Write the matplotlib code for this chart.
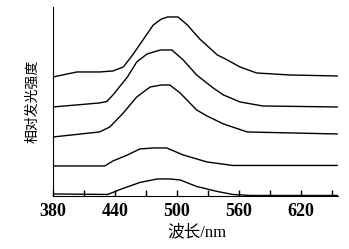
import matplotlib
matplotlib.use("Agg")
import matplotlib.pyplot as plt

# emission spectra (stacked, arbitrary units)
wl_1 = [380, 433, 445, 464, 481, 493, 503, 519, 539, 554, 571, 655]
val_1 = [0.2, 0.15, 0.65, 1.35, 1.7, 1.7, 1.6, 0.95, 0.45, 0.15, 0.05, 0.05]

wl_2 = [380, 430, 438, 452, 464, 477, 490, 506, 529, 554, 655]
val_2 = [3.0, 3.0, 3.5, 4.1, 4.7, 4.8, 4.8, 4.1, 3.4, 3.05, 3.05]

wl_3 = [380, 425, 435, 448, 461, 474, 485, 493, 503, 519, 529, 545, 568, 655]
val_3 = [5.9, 6.4, 6.9, 8.3, 9.9, 10.9, 11.1, 11.1, 10.3, 8.6, 8.0, 7.2, 6.4, 6.2]

wl_4 = [380, 425, 432, 438, 452, 461, 471, 484, 495, 506, 519, 535, 545, 561, 583, 655]
val_4 = [8.9, 9.3, 9.45, 10.1, 11.9, 13.4, 14.2, 14.6, 14.6, 13.6, 12.1, 10.8, 10.1, 9.4, 9.0, 8.9]

wl_5 = [380, 403, 425, 438, 448, 457, 467, 477, 485, 491, 501, 510, 522, 539, 545, 561, 577, 609, 655]
val_5 = [11.9, 12.4, 12.4, 12.5, 12.9, 14.1, 15.6, 17.1, 17.7, 17.9, 17.9, 17.1, 15.7, 14.1, 13.8, 12.9, 12.3, 12.1, 12.0]

major_ticks = [380, 440, 500, 560, 620]
minor_ticks = [410, 470, 530, 590, 650]

fig = plt.figure(figsize=(3.49, 2.49), dpi=100)
ax = fig.add_axes([0.152, 0.213, 0.817, 0.759])

for wl, val in [(wl_1, val_1), (wl_2, val_2), (wl_3, val_3), (wl_4, val_4), (wl_5, val_5)]:
    ax.plot(wl, val, color="black", lw=1.0, solid_joinstyle="round")

ax.set_xlim(380, 656)
ax.set_ylim(0, 18.9)
ax.spines["top"].set_visible(False)
ax.spines["right"].set_visible(False)
ax.set_yticks([])
ax.set_xticks(major_ticks)
ax.set_xticks(minor_ticks, minor=True)
ax.tick_params(axis="x", which="both", direction="in", length=4, width=1.0, pad=5)
for t in ax.get_xticklabels():
    t.set_fontfamily("Liberation Serif")
    t.set_fontsize(13)
    t.set_fontweight("bold")

fams = ["Liberation Serif", "Noto Sans CJK SC"]
ax.set_xlabel("波长/nm", family=fams, fontsize=12)
ax.xaxis.set_label_coords(0.503, -0.15)
ax.set_ylabel("相对发光强度", family=fams, fontsize=10)
ax.yaxis.set_label_coords(-0.048, 0.5)

fig.savefig("out.png", dpi=100)
